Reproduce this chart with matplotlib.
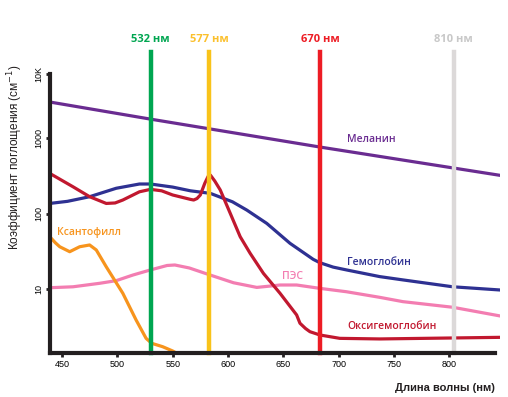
import matplotlib
matplotlib.use("Agg")
import matplotlib.pyplot as plt

# wavelengths (nm) and absorption (cm^-1)
melanin_nm = [439, 530, 683, 804, 846]
melanin_val = [3000, 1780, 760, 400, 320]

hb_nm = [439, 455, 475, 499, 520, 530, 550, 566, 584, 604, 617, 635, 656, 677, 683, 695, 707, 737, 758, 803, 846]
hb_val = [136, 145, 167, 216, 246, 246, 224, 200, 185, 143, 111, 74, 40.3, 24.7, 22.3, 19.5, 17.9, 14.6, 13.2, 10.7, 9.7]

hbo2_nm = [439, 460, 475, 490, 498, 505, 520, 530, 540, 550, 566, 569, 572, 575, 579, 582, 584, 588, 593, 602, 611, 620, 632, 647, 662, 665, 670, 674, 683, 701, 737, 846]
hbo2_val = [340, 226, 167, 136, 138, 151, 194, 209, 200, 176, 154, 151, 158, 176, 251, 310, 324, 270, 205, 100.7, 49.3, 29.7, 16.1, 8.77, 4.53, 3.52, 3.0, 2.72, 2.46, 2.22, 2.18, 2.29]

xanth_nm = [439, 444, 448, 457, 466, 475, 481, 490, 505, 517, 526, 531, 541, 550, 556]
xanth_val = [49.3, 41, 36.3, 31.2, 36.3, 38.3, 32.9, 19.7, 8.77, 3.88, 2.22, 1.91, 1.72, 1.51, 1.35]

rpe_nm = [439, 460, 484, 499, 514, 530, 545, 552, 565, 584, 605, 626, 637, 647, 662, 683, 707, 737, 758, 803, 846]
rpe_val = [10.4, 10.7, 11.9, 12.9, 15.3, 17.9, 20.5, 20.8, 19.0, 15.3, 12.1, 10.5, 10.9, 11.3, 11.3, 10.2, 9.2, 7.76, 6.8, 5.73, 4.39]

laser_labels = ["532 нм", "577 нм", "670 нм", "810 нм"]
laser_pos = [530, 583, 683, 804]
laser_colors = ["#00a651", "#f9c31a", "#ed1c24", "#dcd9d9"]
laser_text_colors = ["#00a651", "#fbc02d", "#ed1c24", "#c8c8c8"]

x_ticks = [450, 500, 550, 600, 650, 700, 750, 800]
y_ticks = [10, 100, 1000, 7050]
y_tick_labels = ["10", "100", "1000", "10K"]

plt.rcParams['font.family'] = ['Open Sans', 'DejaVu Sans']

fig = plt.figure(figsize=(5.08, 3.97), dpi=100)
ax = fig.add_axes([50 / 508, 1 - 353 / 397, 450 / 508, 279 / 397])

style = dict(lw=2.3, solid_capstyle="butt", solid_joinstyle="round")
ax.plot(melanin_nm, melanin_val, color="#6a2c91", **style)
ax.plot(rpe_nm, rpe_val, color="#f37db1", **style)
ax.plot(xanth_nm, xanth_val, color="#f7941d", **style)
ax.plot(hb_nm, hb_val, color="#2e3192", **style)
ax.plot(hbo2_nm, hbo2_val, color="#c1182f", **style)

for pos, lab, c, tc in zip(laser_pos, laser_labels, laser_colors, laser_text_colors):
    ax.axvline(pos, ymin=0, ymax=301 / 279, color=c, lw=3.2, clip_on=False, zorder=4)
    ax.text(pos, 1.125, lab, transform=ax.get_xaxis_transform(), color=tc,
            ha="center", va="center", fontsize=8, fontweight="bold")

ax.set_yscale("log")
ax.set_xlim(439.2, 845.7)
ax.set_ylim(1.42, 7050)

ax.set_xticks(x_ticks)
ax.set_xticklabels([str(t) for t in x_ticks], family="Liberation Sans", fontsize=6.5)
ax.set_yticks(y_ticks)
ax.set_yticklabels(y_tick_labels, family="Liberation Sans", fontsize=6.5,
                   rotation=90, va="center")
ax.minorticks_off()
ax.tick_params(axis="both", length=3, width=2, color="#231f20", pad=2)

for s in ["top", "right"]:
    ax.spines[s].set_visible(False)
for s in ["left", "bottom"]:
    ax.spines[s].set_linewidth(3)
    ax.spines[s].set_color("#231f20")
    ax.spines[s].set_zorder(5)
ax.spines["bottom"].set_bounds(439.2, 841)

tk = dict(fontsize=7.5, fontweight="semibold")
ax.text(707.5, 942, "Меланин", color="#6a2c91", va="center", **tk)
ax.text(707.5, 22.3, "Гемоглобин", color="#2e3192", va="center", **tk)
ax.text(648.5, 14.6, "ПЭС", color="#f37db1", va="center", **tk)
ax.text(707.5, 3.17, "Оксигемоглобин", color="#c1182f", va="center", **tk)
ax.text(445.2, 55.7, "Ксантофилл", color="#f7941d", va="center", **tk)

fig.text(495 / 508, 1 - 388 / 397, "Длина волны (нм)", ha="right", va="center",
         fontsize=8, family="Liberation Sans", fontweight="bold", color="#231f20")
fig.text(15 / 508, 1 - 157 / 397, "Коэффициент поглощения (см$^{-1}$)", rotation=90,
         ha="center", va="center", fontsize=8.5, family="Liberation Sans",
         color="#231f20")

fig.savefig("out.png", dpi=100)
